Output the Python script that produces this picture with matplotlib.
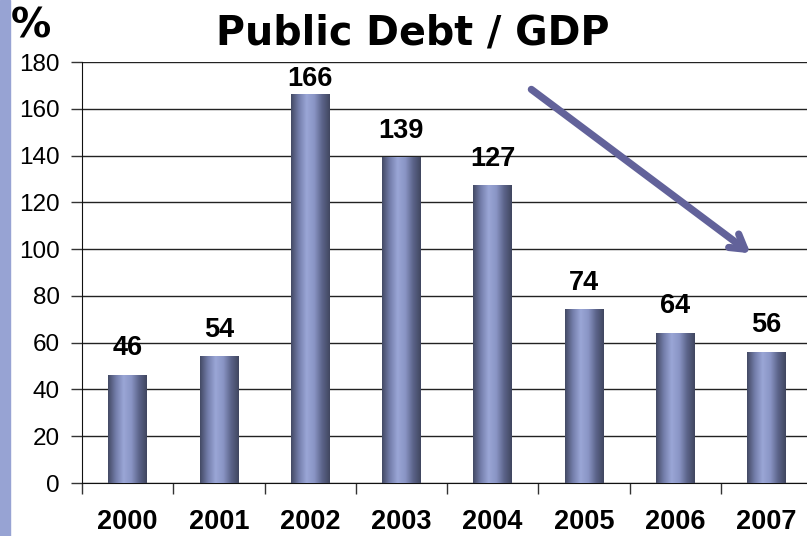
import numpy as np
import matplotlib.pyplot as plt
from matplotlib.colors import LinearSegmentedColormap

# данные
years = ['2000', '2001', '2002', '2003', '2004', '2005', '2006', '2007']
debt = [46, 54, 166, 139, 127, 74, 64, 56]

fig = plt.figure(figsize=(8.07, 5.36), dpi=100)
fig.patch.set_facecolor('white')

# полоса слева
fig.add_artist(plt.Rectangle((0, 0), 10 / 807, 1, transform=fig.transFigure,
                             color='#97a3d3', zorder=0))

ax = fig.add_axes([82 / 807, 53 / 536, 730 / 807, 421 / 536])
x = np.arange(len(years))
w = 0.42

cmap = LinearSegmentedColormap.from_list(
    'cyl', ['#434963', '#737daa', '#9aa6d6', '#8a95c5', '#5c648a', '#40465f'])
grad = np.linspace(0, 1, 256).reshape(1, -1)

bars = ax.bar(x, debt, width=w, color='none', edgecolor='none', zorder=3)
for b in bars:
    x0, y0 = b.get_x(), b.get_y()
    ax.imshow(grad, cmap=cmap, aspect='auto', zorder=3,
              extent=(x0, x0 + b.get_width(), y0, y0 + b.get_height()))

# подписи значений
for xi, v in zip(x, debt):
    ax.text(xi, min(v + 6, 167), str(v), ha='center', va='bottom',
            fontsize=19.5, fontweight='bold', family='Liberation Sans')

ax.set_xlim(-0.5, len(years) - 0.5)
ax.set_ylim(0, 180)
ax.set_yticks(range(0, 181, 20))
ax.yaxis.grid(True, color='#222222', lw=1)
ax.set_axisbelow(True)

ax.set_xticks(np.arange(-0.5, len(years), 1))
ax.set_xticklabels([])
ax.set_xticks(x, minor=True)
ax.set_xticklabels(years, minor=True, fontsize=19.5, fontweight='bold',
                   family='Liberation Sans')
ax.tick_params(axis='x', which='minor', length=0, pad=19)
ax.tick_params(axis='x', which='major', length=8, width=1, color='#333333')
ax.tick_params(axis='y', length=8, width=1, color='#333333', pad=8, labelsize=17.5)
for lab in ax.get_yticklabels():
    lab.set_family('Liberation Sans')

for s in ['top', 'right']:
    ax.spines[s].set_visible(False)
ax.spines['left'].set_color('#111111')
ax.spines['bottom'].set_color('#111111')

# стрелка тренда
ax.annotate('', xy=(6.85, 97.5), xytext=(4.4, 169),
            arrowprops=dict(arrowstyle='->,head_length=1.0,head_width=0.6',
                            color='#62629a', lw=5.2), zorder=5)

fig.text(413 / 807, 1 - 33 / 536, 'Public Debt / GDP', ha='center', va='center',
         fontsize=28.5, fontweight='bold', family='DejaVu Sans')
fig.text(11 / 807, 1 - 27 / 536, '%', ha='left', va='center',
         fontsize=29, fontweight='bold', family='DejaVu Sans')

fig.savefig('out.png', dpi=100)
